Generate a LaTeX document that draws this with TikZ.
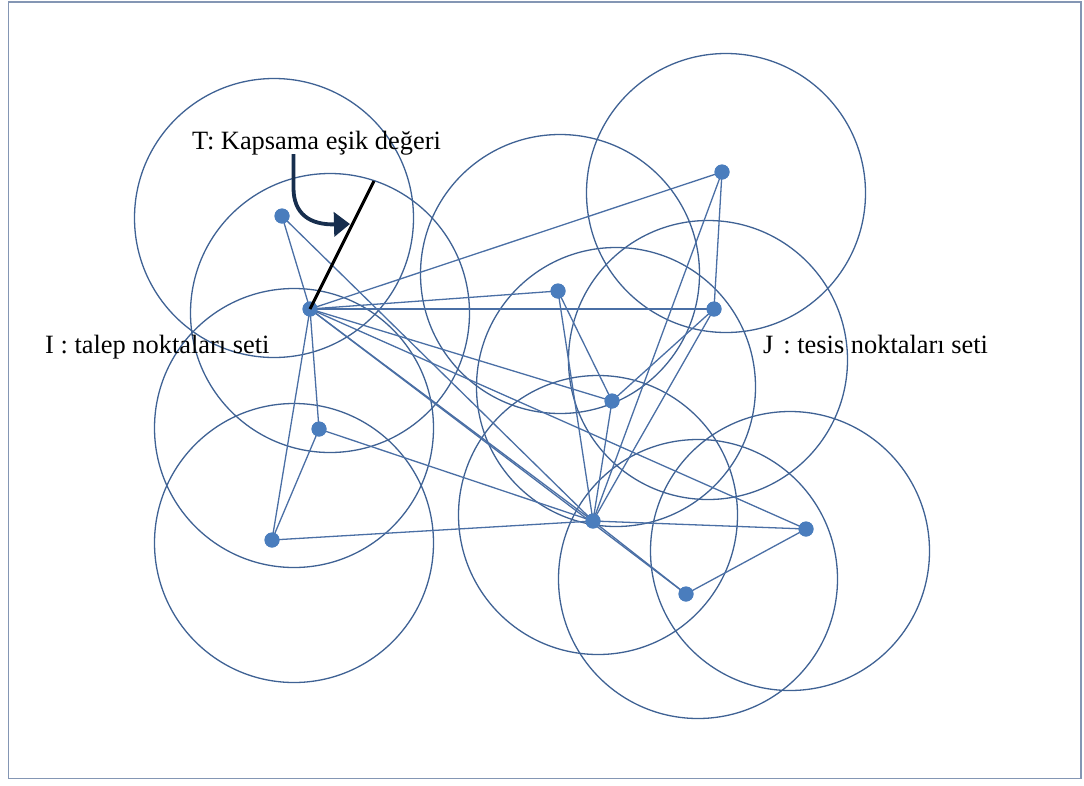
\documentclass[tikz,border=0pt]{standalone}
\usepackage{fontspec}
\setmainfont{Liberation Serif}
\usetikzlibrary{arrows.meta}
\definecolor{ringcol}{HTML}{3F6294}
\definecolor{edgecol}{HTML}{4A6FA5}
\definecolor{dotcol}{HTML}{4A7DBD}
\definecolor{framecol}{HTML}{8496B4}
\definecolor{arrowcol}{HTML}{172E4E}
\tikzset{
  ring/.style={circle,draw=ringcol,line width=1.3pt,minimum size=279pt,inner sep=0pt},
  link/.style={draw=edgecol,line width=1.3pt},
  dot/.style={circle,fill=dotcol,inner sep=0pt,minimum size=15pt},
  lbl/.style={inner sep=0pt,anchor=base west,font=\fontsize{26.4}{30}\selectfont},
  radiusline/.style={draw=black,line width=3pt},
  bendarrow/.style={draw=arrowcol,line width=3.8pt,-{Triangle[length=16pt,width=24pt]}}
}
\begin{document}
\begin{tikzpicture}[x=1pt,y=-1pt]
\useasboundingbox (0,0) rectangle (1084,785);
\fill[white] (0,0) rectangle (1084,785);
\draw[framecol,line width=1.4pt] (8.5,2) rectangle (1081,778.5);
% coverage circles
\node[ring] (c1) at (274,218) {};
\node[ring] (c2) at (330,313) {};
\node[ring] (c3) at (294,428) {};
\node[ring] (c4) at (294,543) {};
\node[ring] (c5) at (560,274) {};
\node[ring] (c6) at (726,193) {};
\node[ring] (c7) at (616,387) {};
\node[ring] (c8) at (708,360) {};
\node[ring] (c9) at (598,515) {};
\node[ring] (c10) at (698,579) {};
\node[ring] (c11) at (790,551) {};
% points
\node[dot] (p1) at (282,216) {};
\node[dot] (p2) at (310,309) {};
\node[dot] (p3) at (319,429) {};
\node[dot] (p4) at (272,540) {};
\node[dot] (p5) at (558,291) {};
\node[dot] (p6) at (714,309) {};
\node[dot] (p7) at (722,172) {};
\node[dot] (p8) at (612,401) {};
\node[dot] (p9) at (593,521) {};
\node[dot] (p10) at (806,529) {};
\node[dot] (p11) at (686,594) {};
% connections
\path[link] (p1.center) -- (p2.center);
\path[link] (p1.center) -- (p9.center);
\path[link] (p2.center) -- (p7.center);
\path[link] (p2.center) -- (p5.center);
\path[link] (p2.center) -- (p6.center);
\path[link] (p2.center) -- (p8.center);
\path[link] (p2.center) -- (p10.center);
\path[link] (p2.center) -- (p9.center);
\path[link] (p2.center) -- (p11.center);
\path[link] (p2.center) -- (p3.center);
\path[link] (p2.center) -- (p4.center);
\path[link] (p3.center) -- (p4.center);
\path[link] (p3.center) -- (p9.center);
\path[link] (p4.center) -- (p9.center);
\path[link] (p5.center) -- (p8.center);
\path[link] (p5.center) -- (p9.center);
\path[link] (p6.center) -- (p7.center);
\path[link] (p6.center) -- (p8.center);
\path[link] (p6.center) -- (p9.center);
\path[link] (p7.center) -- (p9.center);
\path[link] (p8.center) -- (p9.center);
\path[link] (p9.center) -- (p10.center);
\path[link] (p9.center) -- (p11.center);
\path[link] (p10.center) -- (p11.center);
% redraw dots on top
\foreach \p in {p1,p2,p3,p4,p5,p6,p7,p8,p9,p10,p11} {\fill[dotcol] (\p.center) circle[radius=7.5pt];}
% threshold radius and arrow
\coordinate (tend) at (374,181);
\path[radiusline] (p2.center) -- (tend);
\coordinate (astart) at (293.5,154);
\coordinate (aend) at (350,224);
\path[bendarrow] (astart) -- (293.5,188) .. controls (293.5,214) and (310,225) .. (aend);
% labels
\node[lbl] (tlabel) at (192,149) {T: Kapsama eşik değeri};
\node[lbl] (ilabel) at (45,353) {I : talep noktaları seti};
\node[lbl] (jlabel) at (763,353) {J\hspace{10pt}: tesis noktaları seti};
\end{tikzpicture}
\end{document}
